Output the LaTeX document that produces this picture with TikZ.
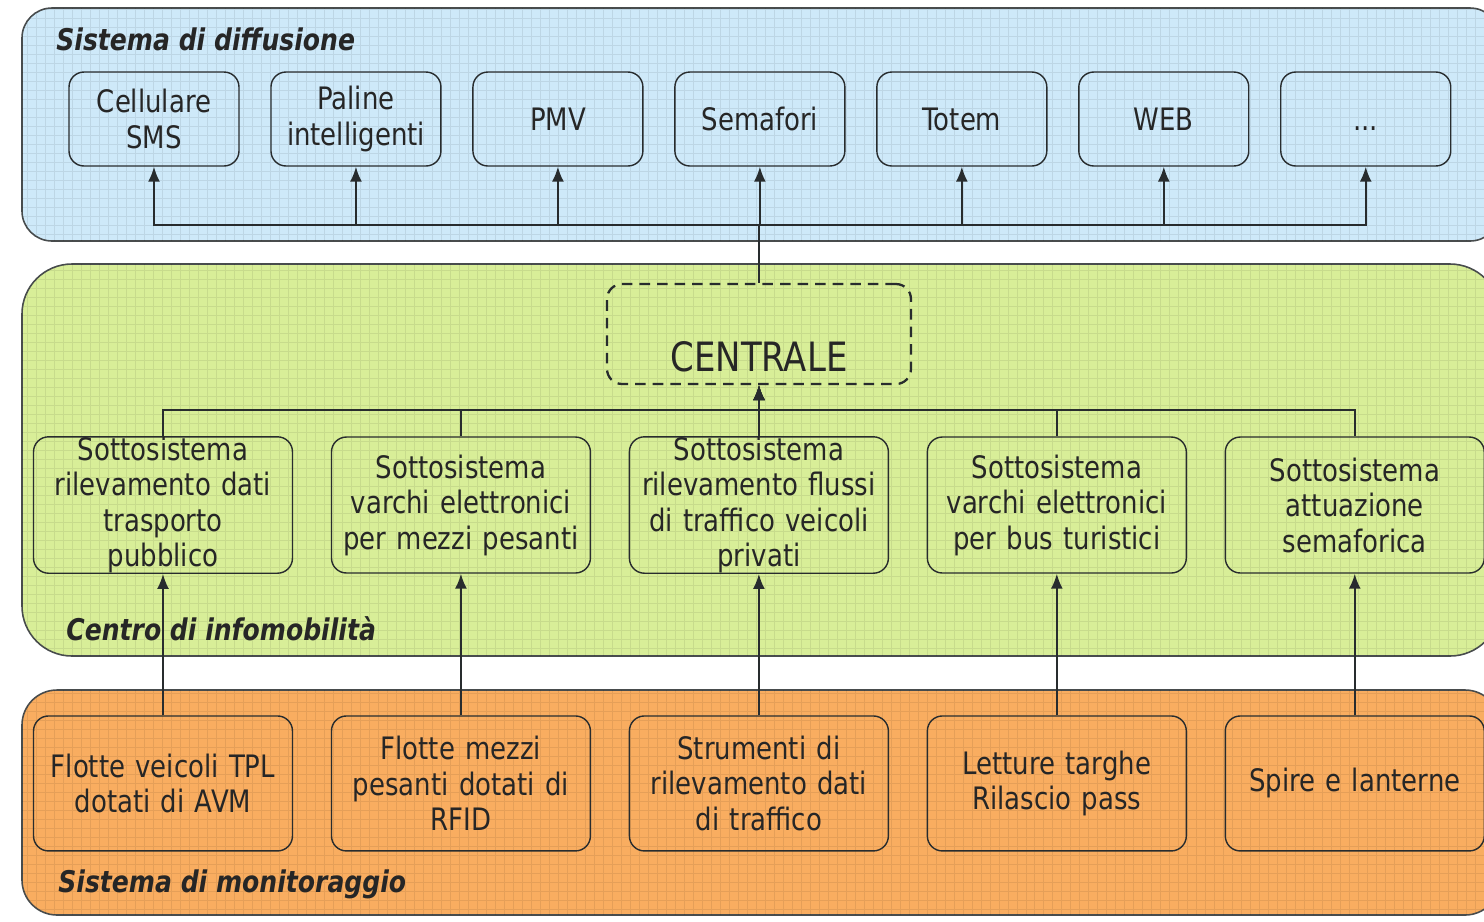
\documentclass[tikz,border=0pt]{standalone}
\usepackage{fontspec}
\setmainfont{DejaVu Sans}[FakeStretch=0.84]
\usetikzlibrary{shapes,arrows.meta,calc,positioning}
\definecolor{diffblue}{RGB}{206,233,249}
\definecolor{infogreen}{RGB}{216,238,152}
\definecolor{monorange}{RGB}{249,173,96}
\definecolor{inkgray}{RGB}{40,44,46}
\tikzstyle{frame} = [draw=inkgray!85, line width=0.9pt]
\tikzstyle{texture} = [draw=black, opacity=0.08, line width=0.3pt, step=0.18cm]
\tikzstyle{outbox} = [rectangle, draw=inkgray, line width=0.8pt, text=black!85,
    text width=3.4cm, text centered, rounded corners=0.3cm, inner sep=0pt,
    minimum width=3.4cm, minimum height=1.88cm, font=\fontsize{17.6}{20.2}\selectfont]
\tikzstyle{subbox} = [outbox, text width=5.18cm, minimum width=5.18cm, minimum height=2.72cm]
\tikzstyle{srcbox} = [subbox, minimum height=2.7cm]
\tikzstyle{central} = [rectangle, draw=inkgray, dashed, line width=1.3pt, rounded corners=0.3cm,
    dash pattern=on 6pt off 4pt, minimum width=6.08cm, minimum height=2cm, text=black!85,
    text height=1.48cm, text depth=0pt, font=\fontsize{23}{26}\selectfont]
\tikzstyle{title} = [anchor=west, inner sep=0pt, text=black!85, font=\bfseries\itshape\fontsize{17}{19}\selectfont]
\tikzstyle{line} = [draw=inkgray, -{Latex[length=0.3cm,width=0.24cm]}, line width=1.1pt]

\begin{document}
\begin{tikzpicture}[x=0.02cm, y=-0.02cm, node distance=2cm]
    \clip (0,0) rectangle (1484,921);
    % Draw frames
    \draw[frame, fill=diffblue, rounded corners=0.6cm] (22,8) rectangle (1500,241);
    \draw[frame, fill=infogreen, rounded corners=1cm] (22,264) rectangle (1500,656);
    \draw[frame, fill=monorange, rounded corners=0.7cm] (22,690) rectangle (1500,915);
    \begin{scope}
        \clip[rounded corners=0.6cm] (22,8) rectangle (1500,241);
        \draw[texture] (22,8) grid (1500,241);
    \end{scope}
    \begin{scope}
        \clip[rounded corners=1cm] (22,264) rectangle (1500,656);
        \draw[texture] (22,264) grid (1500,656);
    \end{scope}
    \begin{scope}
        \clip[rounded corners=0.7cm] (22,690) rectangle (1500,915);
        \draw[texture] (22,690) grid (1500,915);
    \end{scope}
    \node[title] (t_diff) at (56,39) {Sistema di diffusione};
    \node[title] (t_info) at (66,629) {Centro di infomobilità};
    \node[title] (t_moni) at (58,884) {Sistema di monitoraggio};
    \coordinate (topbus) at (0,225);
    \coordinate (midbus) at (0,410);
    % Place nodes
    \node[outbox] (cell) at (154,119) {Cellulare\\SMS};
    \node[outbox, right of=cell, node distance=4.04cm] (paline) {Paline\\intelligenti};
    \node[outbox, right of=paline, node distance=4.04cm] (pmv) {PMV};
    \node[outbox, right of=pmv, node distance=4.04cm] (semafori) {Semafori};
    \node[outbox, right of=semafori, node distance=4.04cm] (totem) {Totem};
    \node[outbox, right of=totem, node distance=4.04cm] (web) {WEB};
    \node[outbox, right of=web, node distance=4.04cm] (altro) {\vphantom{WEB}...};
    \node[central] (centrale) at (759,334) {CENTRALE};
    \node[subbox] (sub_tpl) at (163,505) {Sottosistema\\rilevamento dati\\trasporto\\pubblico};
    \node[subbox, right of=sub_tpl, node distance=5.96cm] (sub_pes) {Sottosistema\\varchi elettronici\\per mezzi pesanti};
    \node[subbox, right of=sub_pes, node distance=5.96cm] (sub_flu) {Sottosistema\\rilevamento flussi\\di traffico veicoli\\privati};
    \node[subbox, right of=sub_flu, node distance=5.96cm] (sub_bus) {Sottosistema\\varchi elettronici\\per bus turistici};
    \node[subbox, right of=sub_bus, node distance=5.96cm] (sub_sem) {Sottosistema\\attuazione\\semaforica};
    \node[srcbox, below of=sub_tpl, node distance=5.57cm] (src_tpl) {Flotte veicoli TPL\\dotati di AVM};
    \node[srcbox, below of=sub_pes, node distance=5.57cm] (src_pes) {Flotte mezzi\\pesanti dotati di\\RFID};
    \node[srcbox, below of=sub_flu, node distance=5.57cm] (src_flu) {Strumenti di\\rilevamento dati\\di traffico};
    \node[srcbox, below of=sub_bus, node distance=5.57cm] (src_bus) {Letture targhe\\Rilascio pass};
    \node[srcbox, below of=sub_sem, node distance=5.57cm] (src_sem) {Spire e lanterne};
    % Draw edges
    \foreach \b in {cell,paline,pmv,semafori,totem,web,altro}
        \path[line] (centrale.north) |- (topbus -| \b.south) -- (\b.south);
    \foreach \s in {sub_tpl,sub_pes,sub_flu,sub_bus,sub_sem}
        \path[line] (\s.north) |- (midbus -| centrale.south) -- (centrale.south);
    \path[line] (src_tpl.north) -- (sub_tpl.south);
    \path[line] (src_pes.north) -- (sub_pes.south);
    \path[line] (src_flu.north) -- (sub_flu.south);
    \path[line] (src_bus.north) -- (sub_bus.south);
    \path[line] (src_sem.north) -- (sub_sem.south);
\end{tikzpicture}
\end{document}
